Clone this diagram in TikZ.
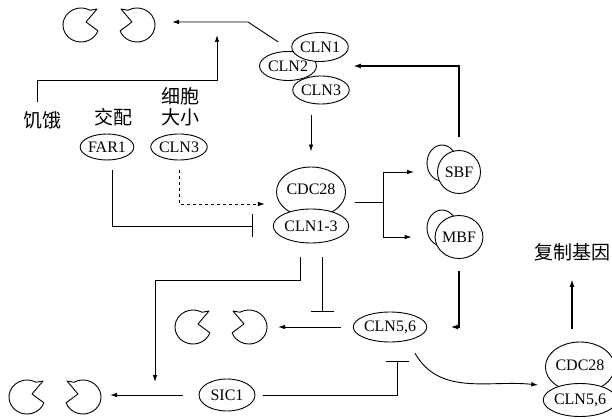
\documentclass[tikz,border=0pt]{standalone}
\usepackage{fontspec}
\setmainfont{Liberation Serif}
\newfontfamily\cjk{Noto Sans CJK SC}
\usetikzlibrary{shapes.geometric,arrows.meta}

\tikzset{
  prot/.style={draw, ellipse, fill=white, inner sep=0pt, line width=0.9pt,
    font=\fontsize{16}{18}\selectfont},
  word/.style={inner sep=0pt, font=\cjk\fontsize{19}{21}\selectfont},
  link/.style={line width=0.9pt},
  act/.style={link, -{Latex[length=7pt,width=4.5pt]}},
  bold act/.style={line width=1.7pt, -{Latex[length=8pt,width=5pt]}},
  block/.style={link, -{Bar[width=23pt,line width=0.9pt]}},
  jaw/.pic={
    \draw[line width=0.9pt, line join=round] (5pt,3pt) -- (-20:18pt and 17pt)
      arc[start angle=-20, end angle=-300, x radius=18pt, y radius=17pt]
      -- (16pt,16pt) -- cycle;
  }
}

\begin{document}
\begin{tikzpicture}[x=1pt,y=-1pt]
  \useasboundingbox (0,0) rectangle (612,419);
  % cyclin cluster at the top
  \node[prot, minimum width=57pt, minimum height=29pt] (cln2) at (288,66) {CLN2};
  \node[prot, minimum width=56pt, minimum height=29pt] (cln1) at (320,47) {CLN1};
  \node[prot, minimum width=55pt, minimum height=28pt] (cln3) at (321,90) {CLN3};
  % CDC28 complex
  \node[prot, minimum width=56pt, minimum height=50pt] (cdc28) at (311,192) {\raisebox{5pt}{CDC28}};
  \node[prot, minimum width=58pt, minimum height=34pt] (cln13) at (311,226) {CLN1-3};
  % upstream signals
  \node[word] (jie) at (42,120) {饥饿};
  \node[word] (jiao) at (113,117) {交配};
  \node[word, align=center] (size) at (180,107) {细胞\\大小};
  \node[prot, minimum width=46pt, minimum height=26pt] (far1) at (107,147) {FAR1};
  \node[prot, minimum width=55pt, minimum height=26pt] (cln3s) at (179,147) {CLN3};
  % transcription factors
  \node[prot, minimum width=30pt, minimum height=36pt] (sbfb) at (442,163) {};
  \node[prot, minimum width=43pt, minimum height=43pt] (sbf) at (459,172) {SBF};
  \node[prot, minimum width=30pt, minimum height=36pt] (mbfb) at (442,228) {};
  \node[prot, minimum width=43pt, minimum height=43pt] (mbf) at (459,237) {MBF};
  % CLN5,6, SIC1 and the late complex
  \node[prot, minimum width=54pt, minimum height=30pt] (cln56) at (390,327) {CLN5,6};
  \node[prot, minimum width=56pt, minimum height=32pt] (sic1) at (227,395) {SIC1};
  \node[prot, minimum width=55pt, minimum height=50pt] (cdc28b) at (580,367) {\raisebox{4pt}{CDC28}};
  \node[prot, minimum width=59pt, minimum height=33pt] (cln56b) at (580,400) {CLN5,6};
  \node[word] (fuzhi) at (572,252) {复制基因};

  % degraded proteins
  \pic at (81,25) {jaw};
  \pic[xscale=-1] at (137,25) {jaw};
  \pic at (193,327) {jaw};
  \pic[xscale=-1] at (249,327) {jaw};
  \pic at (27,397) {jaw};
  \pic[xscale=-1] at (83,397) {jaw};

  % free ends
  \coordinate (topBend) at (248,22);
  \coordinate (topIn) at (172,22);
  \coordinate (hungerIn) at (217,35);
  \coordinate (fork) at (383,202);
  \coordinate (midBlock) at (322,312);
  \coordinate (sicHit) at (155,382);
  \coordinate (midJaw) at (278,327);
  \coordinate (lowJaw) at (110,395);

  % top row
  \draw[act] (cln2.125) ++(0,-10) -- (topBend) -- (topIn);
  \draw[act, shorten <=9pt] ([xshift=-5pt]jie.north) -- ++(0,-31) -| (hungerIn);
  \draw[block, shorten <=10pt, shorten >=20pt] ([xshift=5pt]far1.south) |- (cln13.west);
  \draw[act, dashed, shorten <=10pt, shorten >=11pt] (cln3s.south) |- ([yshift=-12pt]cdc28.west);
  \draw[act, shorten <=11pt, shorten >=15pt] (cln3.south -| cdc28.north) -- (cdc28.north);
  % SBF and MBF
  \draw[link, shorten <=9pt] ([yshift=-10pt]cdc28.east) -- (fork);
  \draw[act, shorten >=23pt] (fork) |- (sbf.west);
  \draw[act, shorten >=23pt] (fork) |- (mbf.west);
  \draw[bold act, shorten <=13pt, shorten >=36pt] (sbf.north) |- (cln2.east);
  \draw[bold act, shorten <=12pt, shorten >=23pt] (mbf.south) |- (cln56.east);
  % lower half
  \draw[block, shorten <=14pt] ([xshift=11pt]cln13.south) -- (midBlock);
  \draw[act, shorten <=14pt] ([xshift=-11pt]cln13.south) -- ++(0,37) -| (sicHit);
  \draw[act, shorten <=12pt] (cln56.west) -- (midJaw);
  \draw[act, shorten <=16pt] (sic1.west) -- (lowJaw);
  \draw[block, shorten <=8pt, shorten >=19pt] (sic1.east) -| ([xshift=7pt]cln56.south);
  \draw[act] (cln56.-35) ++(6,13) to[out=-60, in=174] ([xshift=-17pt]cdc28b.south west);
  \draw[bold act, shorten <=13pt, shorten >=18pt] (cdc28b.north -| fuzhi.south) -- (fuzhi.south);
\end{tikzpicture}
\end{document}
